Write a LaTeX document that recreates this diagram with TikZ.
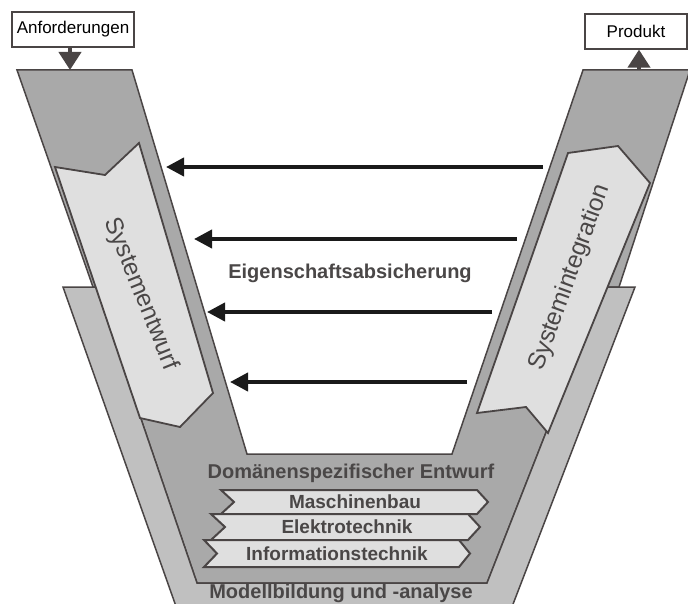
\documentclass[tikz,border=0pt]{standalone}
\usepackage{fontspec}
\setmainfont{Liberation Sans}
\usetikzlibrary{arrows.meta}
\definecolor{midgray}{HTML}{A9A9A9}
\definecolor{litegray}{HTML}{C0C0C0}
\definecolor{palegray}{HTML}{DFDFDF}
\definecolor{edgegray}{HTML}{4A4545}
\definecolor{txtgray}{HTML}{4A4747}
\definecolor{blk}{HTML}{1A1A1A}
\begin{document}
\begin{tikzpicture}[x=1pt,y=-1pt,
  vpart/.style={draw=edgegray,line width=1.5pt,line join=miter},
  chev/.style={draw=edgegray,fill=palegray,line width=2pt,line join=miter},
  sysarrow/.style={draw=edgegray,fill=palegray,line width=1.8pt,line join=miter},
  box/.style={draw=edgegray,fill=white,line width=1.2pt,inner sep=0pt,minimum height=35pt,
    font=\fontsize{17}{20}\selectfont,text=black},
  darrow/.style={draw=edgegray,line width=4pt,-{Triangle[length=18pt,width=22pt]}},
  harrow/.style={draw=blk,line width=4pt,-{Triangle[length=18pt,width=18pt]}},
  boldlbl/.style={font=\fontsize{20}{24}\selectfont\bfseries,text=txtgray,inner sep=0pt},
  chevlbl/.style={font=\fontsize{19}{22}\selectfont\bfseries,text=txtgray,inner sep=0pt},
  armlbl/.style={font=\fontsize{24.5}{28}\selectfont,text=txtgray,inner sep=0pt}
]
\useasboundingbox (0,0) rectangle (688,604);
\clip (0,0) rectangle (688,604);

% medium V shape
\path[vpart,fill=midgray] (17,70) -- (132,70) -- (247,454) -- (452,454) -- (583,70) -- (690,70)
  -- (619,287) -- (603,287) -- (487,583) -- (197,583) -- (96,287) -- (93,287) -- cycle;

% light U band (Modellbildung und -analyse)
\path[vpart,fill=litegray] (63,287) -- (96,287) -- (197,583) -- (487,583) -- (603,287) -- (635,287)
  -- (510,612) -- (178,612) -- cycle;

% Systementwurf arrow
\path[sysarrow] (55,167) -- (105,175) -- (139,143) -- (213,393) -- (180,427) -- (140,418) -- cycle;
% Systemintegration arrow
\path[sysarrow] (568,153) -- (618,146) -- (650,183) -- (548,433) -- (526,407) -- (477,413) -- cycle;

\node[armlbl,rotate=-68] (se) at (141,294) {Systementwurf};
\node[armlbl,rotate=70] (si) at (570,277.5) {Systemintegration};

% domain chevrons
\path[chev] (221,490) -- (477,490) -- (488,502) -- (477,514) -- (221,514) -- (234,502) -- cycle;
\path[chev] (211,514) -- (468,514) -- (480,527) -- (468,540) -- (211,540) -- (225,527) -- cycle;
\path[chev] (204,540) -- (459,540) -- (470,553.5) -- (459,567) -- (204,567) -- (217,553.5) -- cycle;
\node[chevlbl] (mb) at (355,502) {Maschinenbau};
\node[chevlbl] (et) at (347,527) {Elektrotechnik};
\node[chevlbl] (it) at (337,553.5) {Informationstechnik};

\node[boldlbl] (dse) at (351,473) {Domänenspezifischer Entwurf};
\node[boldlbl] (mba) at (341,593) {Modellbildung und -analyse};
\node[boldlbl] (eig) at (350,273) {Eigenschaftsabsicherung};

% horizontal arrows
\coordinate (h1s) at (543,167); \coordinate (h1e) at (166,167);
\coordinate (h2s) at (517,239); \coordinate (h2e) at (194,239);
\coordinate (h3s) at (492,312); \coordinate (h3e) at (207,312);
\coordinate (h4s) at (467,382); \coordinate (h4e) at (230,382);
\draw[harrow] (h1s) -- (h1e);
\draw[harrow] (h2s) -- (h2e);
\draw[harrow] (h3s) -- (h3e);
\draw[harrow] (h4s) -- (h4e);

% input / output boxes
\node[box,minimum width=122pt] (anf) at (73,29.5) {Anforderungen};
\node[box,minimum width=102pt] (prod) at (636,31.5) {Produkt};
\coordinate (anftip) at (70,70);
\coordinate (prodtail) at (639,70);
\draw[darrow] (anf.south -| anftip) -- (anftip);
\draw[darrow] (prodtail) -- (prod.south -| prodtail);
\end{tikzpicture}
\end{document}
